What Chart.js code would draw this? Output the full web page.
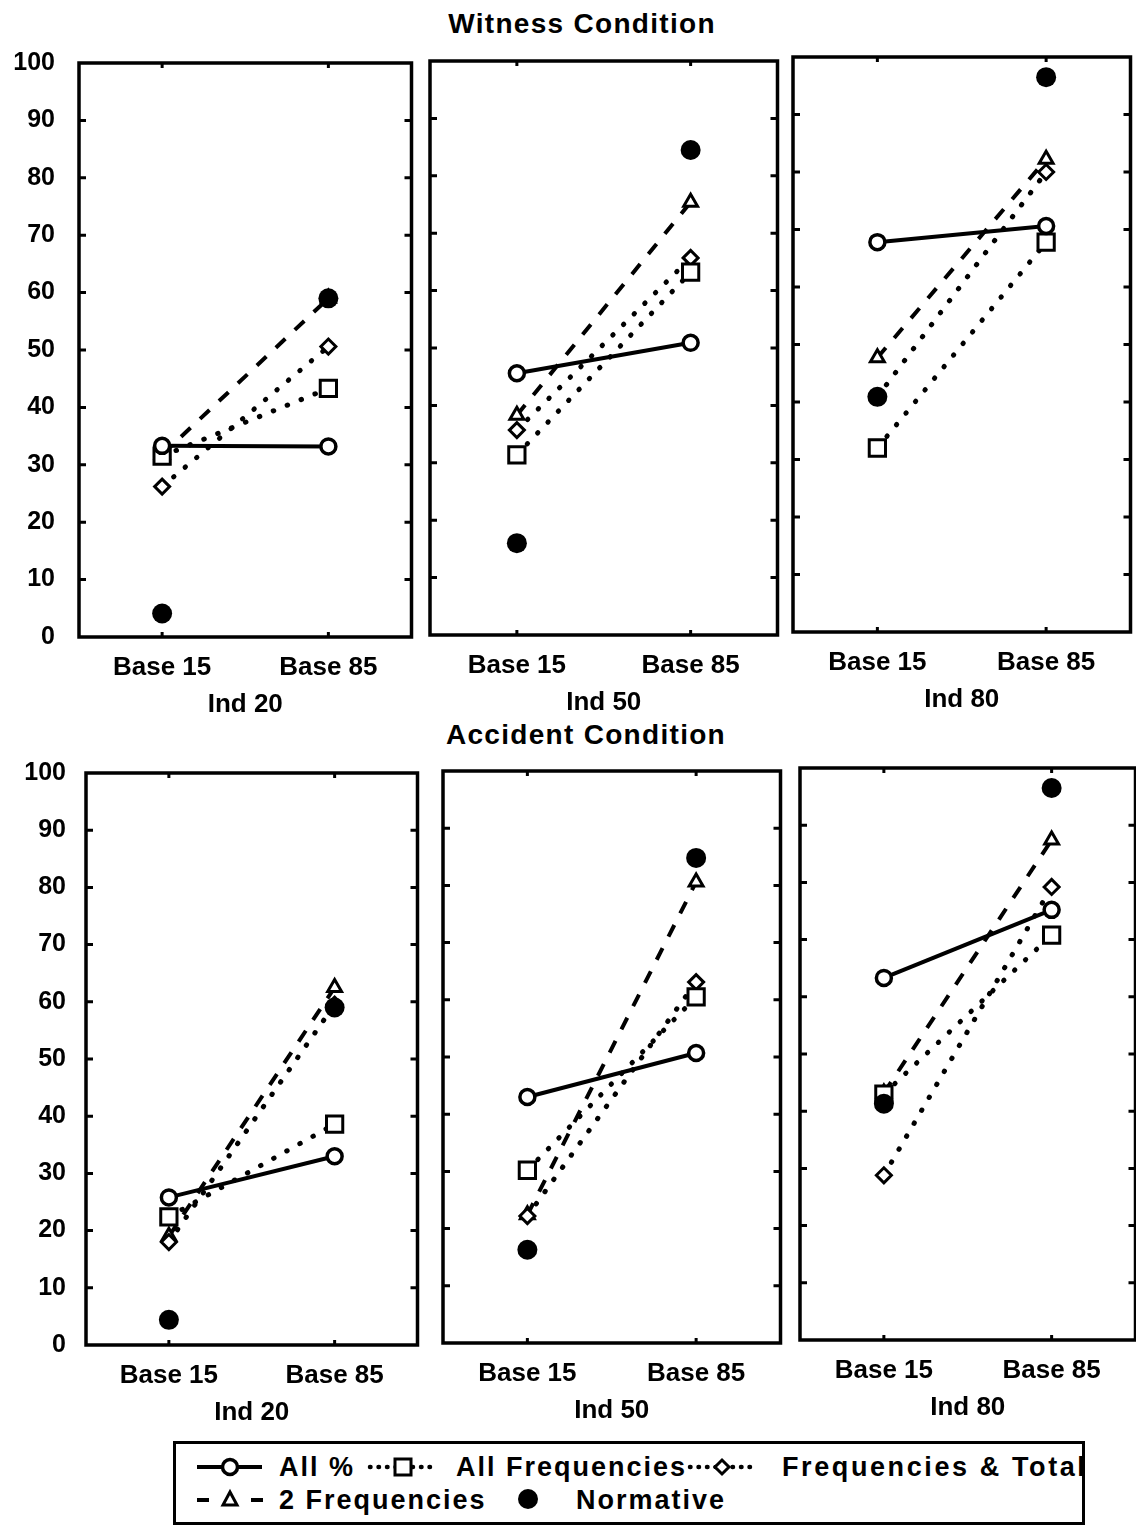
<!DOCTYPE html>
<html>
<head>
<meta charset="utf-8">
<script src="https://cdn.jsdelivr.net/npm/chart.js@4.4.0/dist/chart.umd.min.js"></script>
<style>
  body { margin: 0; background: #fff; width: 1136px; height: 1526px; position: relative; overflow: hidden;
         font-family: "Liberation Sans", Arial, sans-serif; font-weight: bold; color: #000; }
  .box { position: absolute; }
  .title { position: absolute; font-size: 28px; letter-spacing: 1.3px; white-space: nowrap; transform: translateX(-50%); line-height: 32px; }
  #legend { position: absolute; left: 173px; top: 1441px; width: 906px; height: 78px; border: 3px solid #000; overflow: hidden; }
  #legend .t { position: absolute; font-size: 27px; letter-spacing: 2px; line-height: 30px; white-space: nowrap; }
  #legend svg { position: absolute; left: 0; top: 0; }
</style>
</head>
<body>
<div class="title" style="left:582px; top:8px;">Witness Condition</div>
<div class="title" style="left:586px; top:719px;">Accident Condition</div>

<div id="legend">
  <svg width="906" height="78">
    <line x1="21" y1="23" x2="86" y2="23" stroke="#000" stroke-width="4"/>
    <circle cx="54" cy="23" r="7.5" fill="#fff" stroke="#000" stroke-width="3.5"/>
    <line x1="194" y1="23" x2="262" y2="23" stroke="#000" stroke-width="4.5" stroke-dasharray="0.5 8" stroke-linecap="round"/>
    <rect x="219" y="15" width="16" height="16" fill="#fff" stroke="#000" stroke-width="3"/>
    <line x1="514" y1="23" x2="580" y2="23" stroke="#000" stroke-width="4.5" stroke-dasharray="0.5 8" stroke-linecap="round"/>
    <polygon points="539,23 546,16 553,23 546,30" fill="#fff" stroke="#000" stroke-width="3"/>
    <line x1="21" y1="56" x2="33" y2="56" stroke="#000" stroke-width="4"/>
    <line x1="75" y1="56" x2="87" y2="56" stroke="#000" stroke-width="4"/>
    <polygon points="54,48 61,61 47,61" fill="#fff" stroke="#000" stroke-width="3"/>
    <circle cx="352" cy="55" r="10" fill="#000"/>
  </svg>
  <div class="t" style="left:103px; top:8px;">All %</div>
  <div class="t" style="left:280px; top:8px;">All Frequencies</div>
  <div class="t" style="left:606px; top:8px; letter-spacing:2.6px;">Frequencies &amp; Total</div>
  <div class="t" style="left:103px; top:41px;">2 Frequencies</div>
  <div class="t" style="left:400px; top:41px;">Normative</div>
</div>

<script>
// categories and panel labels
const categories = ['Base 15', 'Base 85'];
const indLabels = ['Ind 20', 'Ind 50', 'Ind 80'];

// Witness condition: one [Base 15, Base 85] pair per Ind panel
const witnessAllPct    = [[33.3, 33.2], [45.6, 50.9], [67.8, 70.6]];
const witnessAllFreq   = [[31.5, 43.3], [31.4, 63.2], [32.0, 67.8]];
const witnessFreqTotal = [[26.2, 50.6], [35.7, 65.7], [40.9, 80.0]];
const witnessTwoFreq   = [[31.8, 59.0], [38.3, 75.4], [47.7, 82.2]];
const witnessNormative = [[4.1, 59.0], [16.0, 84.5], [40.9, 96.5]];

// Accident condition
const accidentAllPct    = [[25.8, 33.0], [43.0, 50.7], [63.3, 75.2]];
const accidentAllFreq   = [[22.4, 38.6], [30.2, 60.5], [43.0, 70.8]];
const accidentFreqTotal = [[18.0, 59.5], [22.2, 63.1], [28.8, 79.2]];
const accidentTwoFreq   = [[19.0, 62.5], [22.4, 80.6], [43.2, 87.4]];
const accidentNormative = [[4.4, 59.0], [16.3, 84.8], [41.3, 96.5]];

// frame boxes [left, top, right, bottom] of each panel (scan is slightly skewed)
const witnessFrames  = [[79, 63, 416, 637], [430, 61, 782, 635], [793, 57, 1135, 632]];
const accidentFrames = [[86, 773, 422, 1345], [443, 771, 785, 1343], [800, 768, 1140, 1340]];
const yLabelGap = [24, 20];

const FONT = '"Liberation Sans", Arial, sans-serif';

// thick frame with inward tick marks, like the original plot
const framePlugin = {
  id: 'frame',
  beforeDatasetsDraw(chart) {
    const {ctx, chartArea: a, scales} = chart;
    ctx.save();
    ctx.strokeStyle = '#000';
    ctx.lineWidth = 3;
    for (let v = 10; v < 100; v += 10) {
      const y = scales.y.getPixelForValue(v);
      ctx.beginPath();
      ctx.moveTo(a.left, y); ctx.lineTo(a.left + 7, y);
      ctx.moveTo(a.right, y); ctx.lineTo(a.right - 7, y);
      ctx.stroke();
    }
    categories.forEach((c, i) => {
      const x = scales.x.getPixelForValue(i);
      ctx.beginPath();
      ctx.moveTo(x, a.top); ctx.lineTo(x, a.top + 5);
      ctx.moveTo(x, a.bottom); ctx.lineTo(x, a.bottom - 5);
      ctx.stroke();
    });
    ctx.lineWidth = 3.5;
    ctx.strokeRect(a.left, a.top, a.right - a.left, a.bottom - a.top);
    ctx.restore();
  }
};

function makePanel(frame, ind, showY, gap, allPct, allFreq, freqTotal, twoFreq, normative) {
  const [l, t, r, b] = frame;
  const padL = 80, padT = 45, padR = 10, axisH = 90;
  const div = document.createElement('div');
  div.className = 'box';
  div.style.left = (l - padL) + 'px';
  div.style.top = (t - padT) + 'px';
  div.style.width = (r - l + padL + padR) + 'px';
  div.style.height = (b - t + padT + axisH) + 'px';
  const cv = document.createElement('canvas');
  div.appendChild(cv);
  document.body.appendChild(div);

  new Chart(cv, {
    type: 'line',
    data: {
      labels: categories,
      datasets: [
        { label: 'Normative', data: normative, showLine: false, order: 0,
          pointStyle: 'circle', pointRadius: 10, backgroundColor: '#000', borderColor: '#000', pointBorderWidth: 0 },
        { label: 'All %', data: allPct, order: 1, borderColor: '#000', borderWidth: 4,
          pointStyle: 'circle', pointRadius: 7.5, pointBackgroundColor: '#fff', pointBorderColor: '#000', pointBorderWidth: 3.5 },
        { label: 'All Frequencies', data: allFreq, order: 2, borderColor: '#000', borderWidth: 5,
          borderDash: [0.5, 14.5], borderCapStyle: 'round',
          pointStyle: 'rect', pointRadius: 11.5, pointBackgroundColor: '#fff', pointBorderColor: '#000', pointBorderWidth: 3 },
        { label: 'Frequencies & Total', data: freqTotal, order: 3, borderColor: '#000', borderWidth: 5,
          borderDash: [0.5, 14.5], borderCapStyle: 'round',
          pointStyle: 'rectRot', pointRadius: 7.5, pointBackgroundColor: '#fff', pointBorderColor: '#000', pointBorderWidth: 3 },
        { label: '2 Frequencies', data: twoFreq, order: 4, borderColor: '#000', borderWidth: 4,
          borderDash: [13, 13],
          pointStyle: 'triangle', pointRadius: 8, pointBackgroundColor: '#fff', pointBorderColor: '#000', pointBorderWidth: 3 }
      ]
    },
    options: {
      responsive: true,
      maintainAspectRatio: false,
      animation: false,
      // top padding is larger than the room the y tick labels ask for, so all panels line up
      layout: { padding: { top: padT, right: padR, left: 0, bottom: 0 } },
      plugins: { legend: { display: false }, tooltip: { enabled: false } },
      scales: {
        x: {
          offset: true,
          grid: { display: false, drawTicks: false },
          border: { display: false },
          ticks: { color: '#000', padding: 15, font: { family: FONT, size: 26, weight: 'bold' } },
          title: { display: true, text: ind, color: '#000', padding: { top: 0, bottom: 7 },
                   font: { family: FONT, size: 26, weight: 'bold' } },
          afterFit: s => { s.height = axisH; }
        },
        y: {
          min: 0, max: 100,
          grid: { display: false, drawTicks: false },
          border: { display: false },
          ticks: { display: showY, stepSize: 10, color: '#000', padding: gap,
                   font: { family: FONT, size: 25, weight: 'bold', lineHeight: 1.2 } },
          afterFit: s => { s.width = padL; }
        }
      }
    },
    plugins: [framePlugin]
  });
}

for (let i = 0; i < 3; i++) {
  makePanel(witnessFrames[i], indLabels[i], i === 0, yLabelGap[0],
    witnessAllPct[i], witnessAllFreq[i], witnessFreqTotal[i], witnessTwoFreq[i], witnessNormative[i]);
  makePanel(accidentFrames[i], indLabels[i], i === 0, yLabelGap[1],
    accidentAllPct[i], accidentAllFreq[i], accidentFreqTotal[i], accidentTwoFreq[i], accidentNormative[i]);
}
</script>
</body>
</html>
